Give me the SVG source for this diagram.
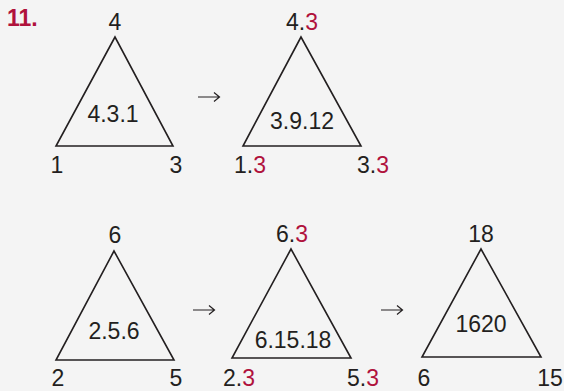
<svg xmlns="http://www.w3.org/2000/svg" width="564" height="391" viewBox="0 0 564 391">
<style>
text{font-family:"Liberation Sans",Arial,sans-serif;font-size:23px;fill:#231f20;text-anchor:middle}
.r{fill:#b0123c}
.t{fill:none;stroke:#231f20;stroke-width:1.6;stroke-linejoin:miter}
.a{fill:none;stroke:#231f20;stroke-width:1.2}
.h{font-weight:bold;font-size:23px;fill:#b0123c;text-anchor:start}
</style>
<rect width="564" height="391" fill="#f4f4f4"/>
<text class="h" x="7" y="26">11.</text>
<g id="t1">
<polygon class="t" points="115,37 56,146 173,146"/>
<text x="115" y="30">4</text>
<text x="113" y="122">4.3.1</text>
<text x="57" y="173">1</text>
<text x="176" y="173">3</text>
</g>
<g id="t2">
<polygon class="t" points="301,37 243,146 361,146"/>
<text x="302" y="30">4.<tspan class="r">3</tspan></text>
<text x="302" y="129">3.9.12</text>
<text x="250" y="173">1.<tspan class="r">3</tspan></text>
<text x="373" y="173">3.<tspan class="r">3</tspan></text>
</g>
<g id="t3">
<polygon class="t" points="114,251 56,360 174,360"/>
<text x="115" y="243">6</text>
<text x="114" y="339">2.5.6</text>
<text x="58" y="386">2</text>
<text x="176" y="386">5</text>
</g>
<g id="t4">
<polygon class="t" points="291,249 232,358 351,358"/>
<text x="292" y="242">6.<tspan class="r">3</tspan></text>
<text x="293" y="348">6.15.18</text>
<text x="239" y="386">2.<tspan class="r">3</tspan></text>
<text x="363" y="386">5.<tspan class="r">3</tspan></text>
</g>
<g id="t5">
<polygon class="t" points="481,249 422,357 541,357"/>
<text x="481" y="242">18</text>
<text x="481" y="332">1620</text>
<text x="424" y="386">6</text>
<text x="550" y="386">15</text>
</g>
<g id="connectors">
<path class="a" d="M198,97 H219 M214,92.5 L219.5,97 L214,101.5"/>
<path class="a" d="M193,310 H214 M209,305.5 L214.5,310 L209,314.5"/>
<path class="a" d="M381,310 H402 M397,305.5 L402.5,310 L397,314.5"/>
</g>
</svg>
